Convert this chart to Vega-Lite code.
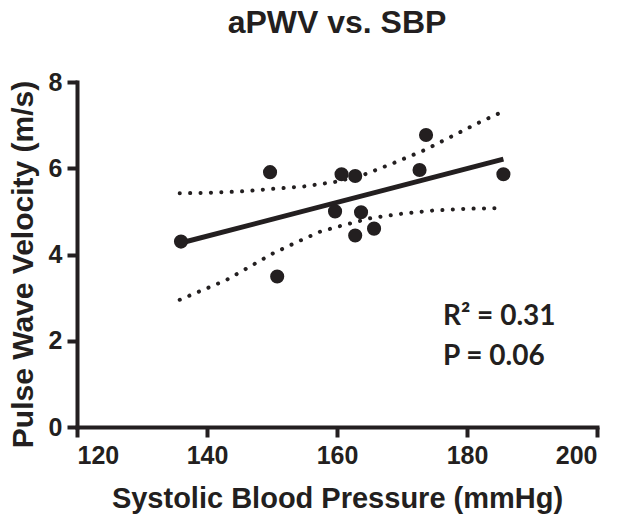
{
  "$schema": "https://vega.github.io/schema/vega-lite/v6.json",
  "width": 520,
  "height": 345,
  "autosize": {"type": "none"},
  "padding": {"left": 77, "top": 82, "right": 20, "bottom": 89},
  "background": "white",
  "title": {
    "text": "aPWV vs. SBP",
    "font": "Liberation Sans",
    "fontSize": 32,
    "fontWeight": "bold",
    "color": "#231f20",
    "anchor": "middle",
    "frame": "group",
    "baseline": "alphabetic",
    "offset": 5
  },
  "config": {
    "view": {"stroke": null},
    "axis": {
      "grid": false,
      "domainColor": "#231f20",
      "domainWidth": 4,
      "domainCap": "square",
      "tickColor": "#231f20",
      "tickWidth": 4,
      "tickSize": 10,
      "labelFont": "Liberation Sans",
      "labelFontWeight": "bold",
      "labelFontSize": 25,
      "labelColor": "#231f20",
      "titleFont": "Liberation Sans",
      "titleFontWeight": "bold",
      "titleFontSize": 29,
      "titleColor": "#231f20"
    }
  },
  "datasets": {
    "points": [
      {"sbp": 136, "pwv": 4.3},
      {"sbp": 149.7, "pwv": 5.91},
      {"sbp": 150.8, "pwv": 3.49},
      {"sbp": 159.7, "pwv": 5.0},
      {"sbp": 160.7, "pwv": 5.86},
      {"sbp": 162.8, "pwv": 5.82},
      {"sbp": 163.7, "pwv": 4.98},
      {"sbp": 162.8, "pwv": 4.44},
      {"sbp": 165.7, "pwv": 4.6},
      {"sbp": 172.7, "pwv": 5.96},
      {"sbp": 173.7, "pwv": 6.77},
      {"sbp": 185.6, "pwv": 5.86}
    ],
    "fit": [
      {"sbp": 135.8, "pwv": 4.26},
      {"sbp": 185.6, "pwv": 6.21}
    ],
    "upper": [
      {"sbp": 135.8, "pwv": 5.42},
      {"sbp": 140, "pwv": 5.43},
      {"sbp": 145, "pwv": 5.46},
      {"sbp": 150, "pwv": 5.52},
      {"sbp": 155, "pwv": 5.58},
      {"sbp": 160, "pwv": 5.69},
      {"sbp": 164.3, "pwv": 5.86},
      {"sbp": 168.7, "pwv": 6.12},
      {"sbp": 173.3, "pwv": 6.41},
      {"sbp": 177.4, "pwv": 6.72},
      {"sbp": 181.7, "pwv": 7.05},
      {"sbp": 185.6, "pwv": 7.32}
    ],
    "lower": [
      {"sbp": 135.8, "pwv": 2.95},
      {"sbp": 143, "pwv": 3.41},
      {"sbp": 150.2, "pwv": 4.03},
      {"sbp": 154.3, "pwv": 4.32},
      {"sbp": 157.4, "pwv": 4.53},
      {"sbp": 160.5, "pwv": 4.66},
      {"sbp": 165.1, "pwv": 4.84},
      {"sbp": 169.7, "pwv": 4.94},
      {"sbp": 174.8, "pwv": 5.02},
      {"sbp": 179.9, "pwv": 5.06},
      {"sbp": 185.6, "pwv": 5.08}
    ],
    "notes": [
      {"label": "R² = 0.31", "sbp": 176.3, "pwv": 2.37},
      {"label": "P = 0.06", "sbp": 176.3, "pwv": 1.44}
    ]
  },
  "layer": [
    {
      "data": {"name": "upper"},
      "mark": {"type": "line", "color": "#231f20", "strokeWidth": 4, "strokeDash": [0.1, 10.3], "strokeCap": "round"},
      "encoding": {
        "x": {"field": "sbp", "type": "quantitative", "scale": {"domain": [120, 200], "nice": false, "zero": false},
              "axis": {"values": [120, 140, 160, 180, 200], "title": "Systolic Blood Pressure (mmHg)", "labelPadding": 6, "titlePadding": 16}},
        "y": {"field": "pwv", "type": "quantitative", "scale": {"domain": [0, 8], "nice": false},
              "axis": {"values": [0, 2, 4, 6, 8], "title": "Pulse Wave Velocity (m/s)", "labelPadding": 5, "titlePadding": 10, "titleFontSize": 30, "titleY": 182}}
      }
    },
    {
      "data": {"name": "lower"},
      "mark": {"type": "line", "color": "#231f20", "strokeWidth": 4, "strokeDash": [0.1, 10.3], "strokeCap": "round"},
      "encoding": {
        "x": {"field": "sbp", "type": "quantitative"},
        "y": {"field": "pwv", "type": "quantitative"}
      }
    },
    {
      "data": {"name": "fit"},
      "mark": {"type": "line", "color": "#231f20", "strokeWidth": 5},
      "encoding": {
        "x": {"field": "sbp", "type": "quantitative"},
        "y": {"field": "pwv", "type": "quantitative"}
      }
    },
    {
      "data": {"name": "points"},
      "mark": {"type": "circle", "color": "#231f20", "opacity": 1, "size": 200},
      "encoding": {
        "x": {"field": "sbp", "type": "quantitative"},
        "y": {"field": "pwv", "type": "quantitative"}
      }
    },
    {
      "data": {"name": "notes"},
      "mark": {"type": "text", "font": "Lato", "fontWeight": "bold", "fontSize": 28, "color": "#231f20", "align": "left", "baseline": "alphabetic"},
      "encoding": {
        "x": {"field": "sbp", "type": "quantitative"},
        "y": {"field": "pwv", "type": "quantitative"},
        "text": {"field": "label"}
      }
    }
  ]
}
